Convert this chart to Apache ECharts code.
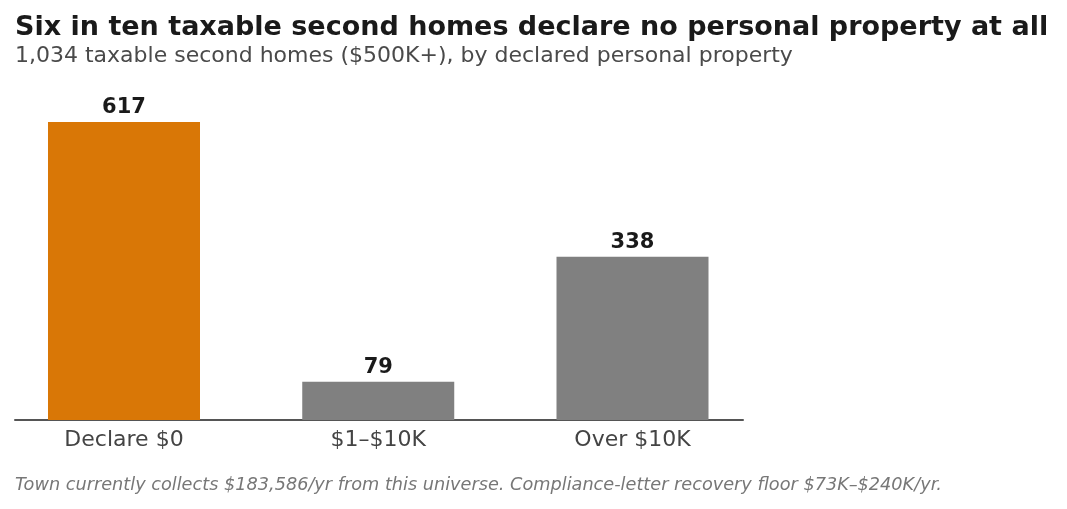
<!DOCTYPE html>
<html>
<head>
<meta charset="utf-8">
<script src="https://cdn.jsdelivr.net/npm/echarts@6/dist/echarts.min.js"></script>
<style>
  html, body { margin: 0; padding: 0; background: #fff; }
</style>
</head>
<body>
<div id="chart" style="width: 1067px; height: 509px;"></div>
<script>
  // declared personal property buckets
  var categories = ['Declare $0', '$1\u2013$10K', 'Over $10K']
  var homeCounts = [617, 79, 338]
  var barColors = ['#d97706', '#808080', '#808080']

  var chart = echarts.init(document.getElementById('chart'))
  var font = 'DejaVu Sans'

  var option = {
    animation: false,
    title: [{
      text: 'Six in ten taxable second homes declare no personal property at all',
      left: 15,
      top: 14,
      padding: 0,
      textStyle: { fontFamily: font, fontSize: 27, fontWeight: 'bold', color: '#1a1a1a' }
    }, {
      text: '1,034 taxable second homes ($500K+), by declared personal property',
      left: 15,
      top: 45,
      padding: 0,
      textStyle: { fontFamily: font, fontSize: 22, fontWeight: 'normal', color: '#4a4a4a' }
    }, {
      text: 'Town currently collects $183,586/yr from this universe. Compliance-letter recovery floor $73K\u2013$240K/yr.',
      left: 15,
      top: 476,
      padding: 0,
      textStyle: { fontFamily: font, fontSize: 17.7, fontStyle: 'italic', fontWeight: 'normal', color: '#777777' }
    }],
    grid: { left: 15, width: 728, top: 106, bottom: 89, containLabel: false },
    xAxis: {
      // value axis with margins either side, like the original's x limits
      type: 'value',
      min: -0.4287,
      max: 2.4346,
      axisLine: { show: true, lineStyle: { color: '#555555', width: 2 } },
      axisTick: { show: false },
      splitLine: { show: false },
      axisLabel: {
        customValues: [0, 1, 2],
        formatter: function (v) { return categories[Math.round(v)] },
        fontFamily: font,
        fontSize: 22,
        color: '#444444',
        margin: 9
      }
    },
    yAxis: {
      type: 'value',
      min: 0,
      max: 650,
      show: false,
      splitLine: { show: false }
    },
    series: [{
      type: 'bar',
      barWidth: 152,
      data: homeCounts.map(function (v, i) {
        return { value: [i, v], itemStyle: { color: barColors[i] } }
      }),
      label: {
        show: true,
        position: 'top',
        distance: 4,
        fontFamily: font,
        fontSize: 21,
        fontWeight: 'bold',
        color: '#1a1a1a',
        formatter: function (p) { return p.value[1] }
      }
    }]
  }

  chart.setOption(option)
</script>
</body>
</html>
